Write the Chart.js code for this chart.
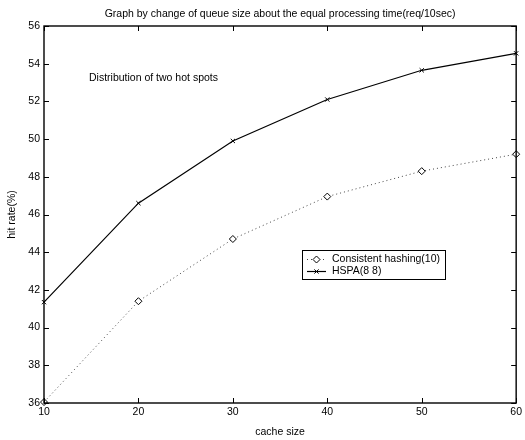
<!DOCTYPE html>
<html>
<head>
<meta charset="utf-8">
<script src="https://cdn.jsdelivr.net/npm/chart.js@4.4.0/dist/chart.umd.min.js"></script>
<style>
  html, body { margin: 0; padding: 0; background: #fff; }
</style>
</head>
<body>
<canvas id="chart" width="525" height="440"></canvas>
<script>
// data
const cacheSizes = [10, 20, 30, 40, 50, 60];
const consistentHashing = [36.05, 41.4, 44.7, 46.95, 48.3, 49.2];
const hspa = [41.35, 46.6, 49.9, 52.1, 53.65, 54.55];
const seriesNames = ['Consistent hashing(10)', 'HSPA(8 8)'];

const titleText = 'Graph by change of queue size about the equal processing time(req/10sec)';
const noteText = 'Distribution of two hot spots';

const FONT = '"Liberation Sans", Arial, Helvetica, sans-serif';
Chart.defaults.font.family = FONT;
Chart.defaults.font.size = 10.5;
Chart.defaults.color = '#000';

const toPoints = ys => cacheSizes.map((x, i) => ({ x, y: ys[i] }));

// inward ticks on all four sides + frame + title + note + legend
const matlabLook = {
  id: 'matlabLook',
  afterDraw(chart) {
    const ctx = chart.ctx;
    const { left, right, top, bottom } = chart.chartArea;
    const xs = chart.scales.x, ys = chart.scales.y;
    ctx.save();
    ctx.strokeStyle = '#000';
    ctx.lineWidth = 1;
    ctx.beginPath();
    xs.ticks.forEach(t => {
      const px = Math.round(xs.getPixelForValue(t.value)) + 0.5;
      ctx.moveTo(px, bottom); ctx.lineTo(px, bottom - 5);
      ctx.moveTo(px, top); ctx.lineTo(px, top + 5);
    });
    ys.ticks.forEach(t => {
      const py = Math.round(ys.getPixelForValue(t.value)) + 0.5;
      ctx.moveTo(left, py); ctx.lineTo(left + 5, py);
      ctx.moveTo(right, py); ctx.lineTo(right - 5, py);
    });
    ctx.stroke();
    ctx.lineWidth = 1.4;
    ctx.strokeRect(left, top, right - left, bottom - top);

    ctx.fillStyle = '#000';
    ctx.font = '10.5px ' + FONT;
    ctx.textBaseline = 'middle';
    ctx.textAlign = 'center';
    ctx.fillText(titleText, (left + right) / 2, 14);
    ctx.textAlign = 'left';
    ctx.fillText(noteText, 89, 78);

    // legend box
    const bx = 302, by = 250, bw = 143, bh = 29;
    ctx.fillStyle = '#fff';
    ctx.fillRect(bx, by, bw, bh);
    ctx.lineWidth = 1;
    ctx.strokeStyle = '#000';
    ctx.strokeRect(bx + 0.5, by + 0.5, bw, bh);
    const rows = [259, 271];
    chart.data.datasets.forEach((ds, i) => {
      const y = rows[i] + 0.5;
      ctx.save();
      ctx.strokeStyle = ds.borderColor;
      ctx.lineWidth = ds.borderWidth;
      ctx.setLineDash(ds.borderDash || []);
      ctx.beginPath();
      ctx.moveTo(307, y); ctx.lineTo(326, y);
      ctx.stroke();
      ctx.setLineDash([]);
      ctx.fillStyle = ds.pointBackgroundColor;
      ctx.strokeStyle = ds.pointBorderColor;
      ctx.lineWidth = ds.pointBorderWidth;
      Chart.helpers.drawPoint(ctx, { pointStyle: ds.pointStyle, radius: ds.pointRadius, rotation: 0, borderWidth: ds.pointBorderWidth }, 316.5, y);
      ctx.restore();
      ctx.fillStyle = '#000';
      ctx.textAlign = 'left';
      ctx.fillText(ds.label, 332, rows[i]);
    });
    ctx.restore();
  }
};

new Chart(document.getElementById('chart'), {
  type: 'line',
  data: {
    datasets: [
      {
        label: seriesNames[0],
        data: toPoints(consistentHashing),
        borderColor: '#444',
        borderWidth: 1,
        borderDash: [1, 3],
        pointStyle: 'rectRot',
        pointRadius: 3.5,
        pointBackgroundColor: '#fff',
        pointBorderColor: '#000',
        pointBorderWidth: 1,
        tension: 0,
        clip: false
      },
      {
        label: seriesNames[1],
        data: toPoints(hspa),
        borderColor: '#000',
        borderWidth: 1.2,
        pointStyle: 'crossRot',
        pointRadius: 3,
        pointBackgroundColor: '#000',
        pointBorderColor: '#000',
        pointBorderWidth: 1,
        tension: 0,
        clip: false
      }
    ]
  },
  options: {
    responsive: false,
    animation: false,
    devicePixelRatio: 1,
    layout: { padding: { top: 26, right: 7, left: 0, bottom: 0 } },
    plugins: {
      legend: { display: false },
      tooltip: { enabled: false }
    },
    scales: {
      x: {
        type: 'linear',
        min: 10,
        max: 60,
        ticks: { stepSize: 10, padding: 3, maxRotation: 0 },
        grid: { display: false, drawTicks: false },
        border: { display: false },
        title: { display: true, text: 'cache size', padding: { top: 0, bottom: 2 } },
        afterFit(scale) { scale.height = 37; }
      },
      y: {
        min: 36,
        max: 56,
        ticks: { stepSize: 2, padding: 4 },
        grid: { display: false, drawTicks: false },
        border: { display: false },
        title: { display: true, text: 'hit rate(%)', padding: { top: 6, bottom: 0 } },
        afterFit(scale) { scale.width = 44; }
      }
    }
  },
  plugins: [matlabLook]
});
</script>
</body>
</html>
